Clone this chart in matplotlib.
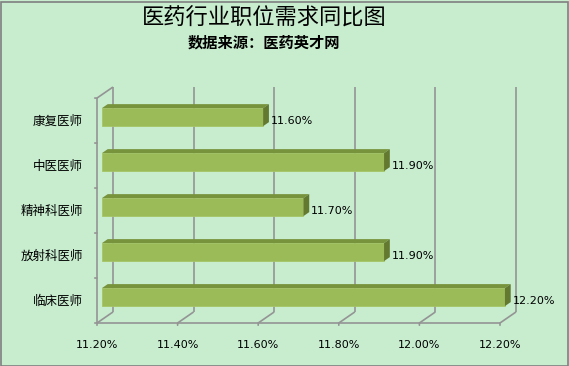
import matplotlib
matplotlib.use("Agg")
from matplotlib import pyplot as plt
from matplotlib.patches import Polygon, Rectangle

plt.rcParams['font.family'] = ['Noto Sans CJK SC', 'DejaVu Sans']

# data (bottom to top)
categories = ['临床医师', '放射科医师', '精神科医师', '中医医师', '康复医师']
values = [12.2, 11.9, 11.7, 11.9, 11.6]
xticks = [11.2, 11.4, 11.6, 11.8, 12.0, 12.2]
xticklabels = ['11.20%', '11.40%', '11.60%', '11.80%', '12.00%', '12.20%']
title = '医药行业职位需求同比图'
subtitle = '数据来源：医药英才网'

bg = '#C7ECCE'
grid_c = '#949494'
front_c = '#9BBB59'
top_c = '#77933C'
side_c = '#62792F'

W, H = 569, 366
fig = plt.figure(figsize=(W / 100, H / 100), dpi=100, facecolor=bg)

# plot area in pixels
left_px, right_px, top_px, bot_px = 97, 516, 87, 323
ax = fig.add_axes([left_px / W, 1 - bot_px / H,
                   (right_px - left_px) / W, (bot_px - top_px) / H])
ax.set_facecolor('none')
ax.axis('off')

xmin, xmax = xticks[0], xticks[-1]
ddx = 0.0397   # depth offset (x, value units)
ddy = 0.2455   # depth offset (y, category units)
ylo, yhi = -0.5, len(categories) - 0.5
ax.set_xlim(xmin, xmax + ddx)
ax.set_ylim(ylo, yhi + ddy)

lk = dict(color=grid_c, lw=1.2, clip_on=False, solid_capstyle='butt')
# back wall gridlines + floor diagonals + bottom ticks
for v in xticks:
    ax.plot([v + ddx, v + ddx], [ylo + ddy, yhi + ddy], **lk)
    ax.plot([v, v + ddx], [ylo, ylo + ddy], **lk)
    ax.annotate('', xy=(v, ylo), xytext=(0, -5), textcoords='offset pixels',
                arrowprops=dict(arrowstyle='-', color=grid_c, lw=1.2))
ax.plot([xmin, xmax], [ylo, ylo], **lk)
# left wall
ax.plot([xmin, xmin], [ylo, yhi], **lk)
ax.plot([xmin, xmin + ddx], [yhi, yhi + ddy], **lk)
for k in range(len(categories) + 1):
    ax.annotate('', xy=(xmin, ylo + k), xytext=(-5, 0), textcoords='offset pixels',
                arrowprops=dict(arrowstyle='-', color=grid_c, lw=1.2))

# tick labels
for v, lab in zip(xticks, xticklabels):
    ax.annotate(lab, xy=(v, ylo), xytext=(0, -22), textcoords='offset pixels',
                ha='center', va='center', fontsize=8, family='DejaVu Sans')

# bars
t0, t1 = 0.31, 0.67
bh = 0.40
ys = list(range(len(categories)))
ax.barh([y + t0 * ddy for y in ys], [v - xmin for v in values], height=bh,
        left=xmin + t0 * ddx, color=front_c, edgecolor='#A6C566', lw=0.6,
        zorder=3)
for y, v, cat in zip(ys, values, categories):
    x0, x1 = xmin + t0 * ddx, v + t0 * ddx
    yb, yt = y + t0 * ddy - bh / 2, y + t0 * ddy + bh / 2
    dx, dy = (t1 - t0) * ddx, (t1 - t0) * ddy
    ax.add_patch(Polygon([(x0, yt), (x1, yt), (x1 + dx, yt + dy), (x0 + dx, yt + dy)],
                         closed=True, color=top_c, lw=0, zorder=3))
    ax.add_patch(Polygon([(x1, yb), (x1 + dx, yb + dy), (x1 + dx, yt + dy), (x1, yt)],
                         closed=True, color=side_c, lw=0, zorder=3))
    ax.annotate(f'{v:.2f}%', xy=(x1 + dx, y), xytext=(2, 0),
                textcoords='offset pixels', ha='left', va='center',
                fontsize=8, family='DejaVu Sans', zorder=4)
    ax.annotate(cat, xy=(xmin, y), xytext=(-14, -1), textcoords='offset pixels',
                ha='right', va='center', fontsize=9)

fig.text(264 / W, 1 - 18 / H, title, ha='center', va='center', fontsize=16)
fig.text(264 / W, 1 - 43 / H, subtitle, ha='center', va='center',
         fontsize=11, fontweight='bold')

fig.add_artist(Rectangle((0.5 / W, 0.5 / H), 1 - 2 / W, 1 - 2 / H,
                         transform=fig.transFigure, fill=False,
                         edgecolor='#808080', lw=1.2))

fig.savefig('out.png', dpi=100, facecolor=bg)
